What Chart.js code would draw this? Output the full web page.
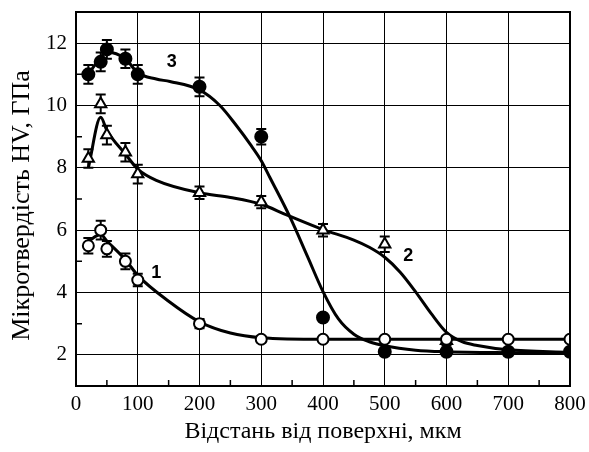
<!DOCTYPE html>
<html>
<head>
<meta charset="utf-8">
<script src="https://cdn.jsdelivr.net/npm/chart.js@4/dist/chart.umd.min.js"></script>
<style>
  html, body { margin: 0; padding: 0; background: #fff; }
  #wrap { width: 589px; height: 452px; }
</style>
</head>
<body>
<div id="wrap"><canvas id="chart-hv" width="589" height="452"></canvas></div>
<script>
// axis ticks
const xTicks = [0, 100, 200, 300, 400, 500, 600, 700, 800];
const yTicks = [2, 4, 6, 8, 10, 12];
const xMinor = [50, 150, 250, 350, 450, 550, 650, 750];
const yMinor = [3, 5, 7, 9, 11];

// measured points (depth, HV) and error half-widths
const depth1 = [20, 40, 50, 80, 100, 200, 300, 400, 500, 600, 700, 800];
const hv1 = [5.5, 6.0, 5.4, 5.0, 4.4, 3.0, 2.5, 2.5, 2.5, 2.5, 2.5, 2.5];
const err1 = [0.25, 0.3, 0.25, 0.25, 0.2, 0.15, 0.1, 0, 0, 0, 0, 0];

const depth2 = [20, 40, 50, 80, 100, 200, 300, 400, 500, 600];
const hv2 = [8.3, 10.05, 9.05, 8.5, 7.8, 7.2, 6.9, 6.0, 5.55, 2.45];
const err2 = [0.3, 0.3, 0.3, 0.3, 0.3, 0.2, 0.2, 0.2, 0.25, 0.15];

const depth3 = [20, 40, 50, 80, 100, 200, 300, 400, 500, 600, 700, 800];
const hv3 = [11.0, 11.4, 11.8, 11.5, 11.0, 10.6, 9.0, 3.2, 2.1, 2.1, 2.1, 2.1];
const err3 = [0.3, 0.3, 0.3, 0.3, 0.3, 0.3, 0.25, 0.1, 0, 0, 0, 0];

// fitted curves
const fitX1 = [20, 40, 50, 80, 100, 150, 200, 250, 300, 400, 500, 600, 700, 800];
const fit1 = [5.65, 5.86, 5.65, 5.05, 4.55, 3.72, 3.06, 2.7, 2.55, 2.5, 2.5, 2.5, 2.5, 2.5];

const fitX2 = [20, 40, 50, 80, 100, 130, 200, 250, 300, 340, 400, 450, 475, 500, 525, 550, 575, 600, 625, 650, 700, 800];
const fit2 = [8.0, 9.62, 9.2, 8.44, 7.96, 7.6, 7.2, 7.05, 6.83, 6.5, 6.02, 5.68, 5.45, 5.13, 4.65, 4.02, 3.33, 2.72, 2.42, 2.3, 2.16, 2.08];

const fitX3 = [20, 40, 50, 80, 100, 130, 152, 200, 233, 260, 282, 300, 314, 347, 375, 400, 425, 450, 475, 500, 550, 600, 700, 800];
const fit3 = [11.0, 11.55, 11.72, 11.5, 11.05, 10.85, 10.77, 10.5, 10.0, 9.35, 8.76, 8.23, 7.69, 6.4, 5.15, 4.03, 3.15, 2.66, 2.42, 2.29, 2.15, 2.1, 2.07, 2.06];

const curveNames = ['1', '2', '3'];

const toXY = (xs, ys) => xs.map((x, i) => ({ x, y: ys[i] }));
const serif = 'Liberation Serif, Times New Roman, serif';

const curve = (xs, ys) => ({
  type: 'line',
  data: toXY(xs, ys),
  borderColor: '#000',
  borderWidth: 3,
  pointRadius: 0,
  cubicInterpolationMode: 'monotone',
  fill: false,
  order: 2
});

const markers = (xs, ys, errs, style, fillColor, radius) => ({
  type: 'scatter',
  data: toXY(xs, ys),
  errors: errs,
  pointStyle: style,
  pointRadius: radius,
  backgroundColor: fillColor,
  borderColor: '#000',
  borderWidth: 2,
  order: 1
});

// error bars go under the markers of their own series
const errorBars = {
  id: 'errorBars',
  beforeDatasetDraw(chart, args) {
    const ds = chart.data.datasets[args.index];
    if (!ds.errors) return;
    const { ctx, scales: { x, y } } = chart;
    ctx.save();
    ctx.strokeStyle = '#000';
    ctx.lineWidth = 2;
    ds.data.forEach((p, i) => {
      const e = ds.errors[i];
      if (!e) return;
      const px = x.getPixelForValue(p.x);
      const top = y.getPixelForValue(p.y + e);
      const bot = y.getPixelForValue(p.y - e);
      ctx.beginPath();
      ctx.moveTo(px, top); ctx.lineTo(px, bot);
      ctx.moveTo(px - 5, top); ctx.lineTo(px + 5, top);
      ctx.moveTo(px - 5, bot); ctx.lineTo(px + 5, bot);
      ctx.stroke();
    });
    ctx.restore();
  }
};

// frame, inner minor ticks and the curve numbers
const frame = {
  id: 'frame',
  afterDraw(chart) {
    const { ctx, chartArea: a, scales: { x, y } } = chart;
    ctx.save();
    ctx.strokeStyle = '#000';
    ctx.lineWidth = 2;
    ctx.strokeRect(a.left, a.top, a.right - a.left, a.bottom - a.top);
    ctx.lineWidth = 1.5;
    ctx.beginPath();
    xMinor.forEach(v => {
      const px = x.getPixelForValue(v);
      ctx.moveTo(px, a.bottom); ctx.lineTo(px, a.bottom - 6);
    });
    yMinor.forEach(v => {
      const py = y.getPixelForValue(v);
      ctx.moveTo(a.left, py); ctx.lineTo(a.left + 6, py);
    });
    ctx.stroke();

    const spots = [[130, 4.62], [538, 5.16], [155, 11.4]];
    ctx.fillStyle = '#000';
    ctx.font = 'bold 18px Liberation Sans, Arial, sans-serif';
    ctx.textAlign = 'center';
    ctx.textBaseline = 'middle';
    curveNames.forEach((n, i) => {
      ctx.fillText(n, x.getPixelForValue(spots[i][0]), y.getPixelForValue(spots[i][1]));
    });
    ctx.restore();
  }
};

const noEdgePadding = s => {
  s.paddingTop = 0; s.paddingBottom = 0;
  s.paddingLeft = 0; s.paddingRight = 0;
};

new Chart(document.getElementById('chart-hv'), {
  type: 'scatter',
  data: {
    datasets: [
      curve(fitX1, fit1),
      curve(fitX2, fit2),
      curve(fitX3, fit3),
      markers(depth1, hv1, err1, 'circle', '#fff', 5.5),
      markers(depth2, hv2, err2, 'triangle', '#fff', 6.5),
      markers(depth3, hv3, err3, 'circle', '#000', 6)
    ]
  },
  options: {
    responsive: false,
    animation: false,
    layout: { padding: { top: 12, right: 19, left: 0, bottom: 0 } },
    plugins: { legend: { display: false }, tooltip: { enabled: false } },
    scales: {
      x: {
        type: 'linear',
        min: 0,
        max: 800,
        afterBuildTicks: s => { s.ticks = xTicks.map(v => ({ value: v })); },
        afterFit: s => { s.height = 66; noEdgePadding(s); },
        grid: { color: '#000', lineWidth: 1, drawTicks: false },
        border: { display: false },
        ticks: { color: '#000', padding: 6, font: { family: serif, size: 21 } },
        title: {
          display: true,
          text: 'Відстань від поверхні, мкм',
          color: '#000',
          padding: { top: 0, bottom: 8 },
          font: { family: serif, size: 24, lineHeight: 1 }
        }
      },
      y: {
        min: 1,
        max: 13,
        afterBuildTicks: s => { s.ticks = yTicks.map(v => ({ value: v })); },
        afterFit: s => { s.width = 76; noEdgePadding(s); },
        grid: { color: '#000', lineWidth: 1, drawTicks: false },
        border: { display: false },
        ticks: { color: '#000', padding: 9, font: { family: serif, size: 21 } },
        title: {
          display: true,
          text: 'Мікротвердість HV, ГПа  ',
          color: '#000',
          padding: { top: 9, bottom: 0 },
          font: { family: serif, size: 26, lineHeight: 1 }
        }
      }
    }
  },
  plugins: [errorBars, frame]
});
</script>
</body>
</html>
